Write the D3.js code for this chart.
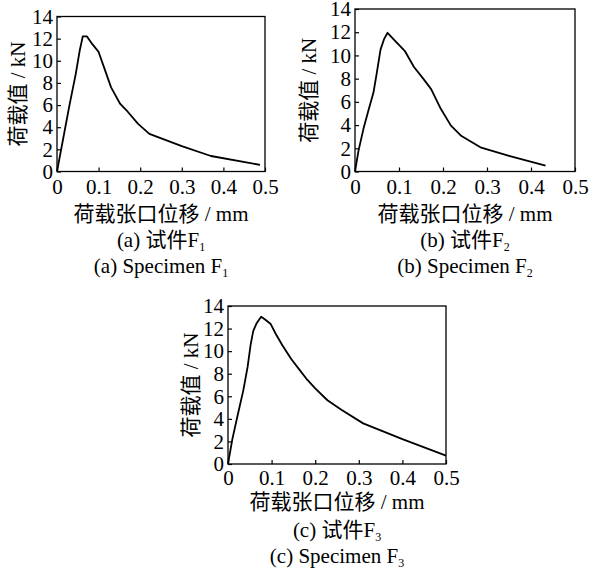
<!DOCTYPE html>
<html><head><meta charset="utf-8">
<script src="https://cdn.jsdelivr.net/npm/d3@7/dist/d3.min.js"></script>
<style>body{margin:0;background:#fff}svg{display:block}</style>
</head><body>
<svg id="c" width="591" height="571"></svg>
<script>
const xTicks = [0, 0.1, 0.2, 0.3, 0.4, 0.5];
const yTicks = [0, 2, 4, 6, 8, 10, 12, 14];
const xLabel = "荷载张口位移 / mm";
const yLabel = "荷载值 / kN";

const f1Disp = [0, 0.01, 0.02, 0.03, 0.045, 0.055, 0.062, 0.072, 0.085, 0.1, 0.115, 0.13, 0.152, 0.17, 0.195, 0.222, 0.3, 0.37, 0.488];
const f1Load = [0, 2.0, 4.0, 6.0, 8.8, 11.0, 12.2, 12.2, 11.5, 10.8, 9.2, 7.6, 6.1, 5.4, 4.3, 3.4, 2.3, 1.4, 0.6];

const f2Disp = [0, 0.008, 0.02, 0.03, 0.042, 0.05, 0.058, 0.066, 0.074, 0.09, 0.113, 0.134, 0.155, 0.173, 0.195, 0.218, 0.242, 0.287, 0.35, 0.433];
const f2Load = [0, 1.8, 3.8, 5.2, 6.8, 8.6, 10.5, 11.4, 11.95, 11.3, 10.4, 9.0, 8.0, 7.1, 5.4, 3.95, 3.05, 2.05, 1.35, 0.5];

const f3Disp = [0, 0.01, 0.022, 0.035, 0.045, 0.052, 0.058, 0.066, 0.076, 0.085, 0.098, 0.11, 0.125, 0.145, 0.165, 0.18, 0.2, 0.228, 0.26, 0.31, 0.4, 0.5];
const f3Load = [0, 2.2, 4.3, 6.5, 8.6, 10.6, 11.8, 12.5, 13.05, 12.8, 12.4, 11.5, 10.5, 9.3, 8.3, 7.55, 6.7, 5.65, 4.8, 3.6, 2.2, 0.75];

const captionsCN = ["(a) 试件F", "(b) 试件F", "(c) 试件F"];
const captionsEN = ["(a) Specimen F", "(b) Specimen F", "(c) Specimen F"];
const subs = ["1", "2", "3"];

const panels = [
  {disp: f1Disp, load: f1Load, l: 57, r: 265, t: 16.5, b: 171.5, pad: 8, yl: 25, xlb: 221, c1: 247, c2: 273},
  {disp: f2Disp, load: f2Load, l: 355, r: 575, t: 9, b: 171.5, pad: 8, yl: 316, xlb: 221, c1: 247, c2: 273},
  {disp: f3Disp, load: f3Load, l: 228, r: 446, t: 306, b: 464, pad: 6, yl: 198, xlb: 509, c1: 537, c2: 563}
];

const svg = d3.select("#c");
const serif = "'Liberation Serif','Times New Roman','Noto Sans CJK SC',serif";

panels.forEach((p, i) => {
  const x = d3.scaleLinear().domain([0, 0.5]).range([p.l, p.r]);
  const y = d3.scaleLinear().domain([0, 14]).range([p.b, p.t]);
  const g = svg.append("g");

  const ax = g.append("g").attr("transform", `translate(0,${p.b})`)
    .call(d3.axisBottom(x).tickValues(xTicks).tickSizeInner(-4).tickSizeOuter(0).tickPadding(p.pad)
      .tickFormat(d => d === 0 ? "0" : d3.format(".1f")(d)));
  const ay = g.append("g").attr("transform", `translate(${p.l},0)`)
    .call(d3.axisLeft(y).tickValues(yTicks).tickSizeInner(-4).tickSizeOuter(0).tickPadding(4));
  [ax, ay].forEach(a => {
    a.select(".domain").remove();
    a.selectAll(".tick line").attr("stroke", "#000").attr("stroke-width", 1.2);
    a.selectAll(".tick text").attr("fill", "#000").style("font-family", serif).style("font-size", "21px");
  });

  g.append("rect").attr("x", p.l).attr("y", p.t).attr("width", p.r - p.l).attr("height", p.b - p.t)
    .attr("fill", "none").attr("stroke", "#000").attr("stroke-width", 1.3);

  const pts = p.disp.map((d, k) => [d, p.load[k]]);
  g.append("path").datum(pts)
    .attr("d", d3.line().x(d => x(d[0])).y(d => y(d[1])))
    .attr("fill", "none").attr("stroke", "#000").attr("stroke-width", 1.8).attr("stroke-linejoin", "round");

  const cx = (p.l + p.r) / 2, cy = (p.t + p.b) / 2;
  g.append("text").attr("transform", `translate(${p.yl},${cy}) rotate(-90)`)
    .attr("text-anchor", "middle").style("font-family", serif).style("font-size", "21px").text(yLabel);
  g.append("text").attr("x", cx).attr("y", p.xlb).attr("text-anchor", "middle")
    .style("font-family", serif).style("font-size", "21px").text(xLabel);

  [[captionsCN[i], p.c1], [captionsEN[i], p.c2]].forEach(([t, yy]) => {
    const tx = g.append("text").attr("x", cx).attr("y", yy).attr("text-anchor", "middle")
      .style("font-family", serif).style("font-size", "21px");
    tx.append("tspan").text(t);
    tx.append("tspan").attr("dy", 4).style("font-size", "12px").text(subs[i]);
  });
});
</script>
</body></html>
